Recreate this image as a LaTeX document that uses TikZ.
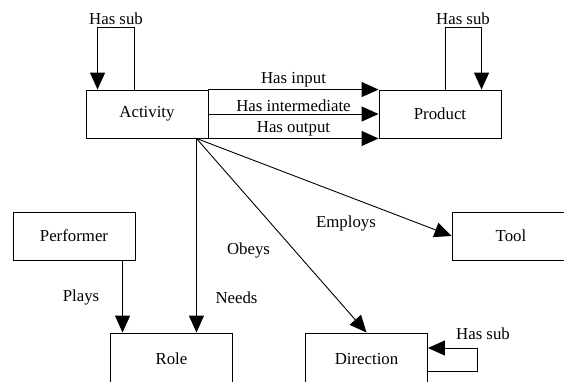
\documentclass[tikz,border=0pt]{standalone}
\usepackage{fontspec}
\setmainfont{Liberation Serif}
\usetikzlibrary{arrows.meta,calc}

\begin{document}
\begin{tikzpicture}
  [x=1pt, y=-1pt, line width=0.9pt,
   every node/.style={font=\fontsize{16.8}{20}\selectfont},
   box/.style={draw, rectangle, inner sep=0pt, minimum width=122pt, minimum height=48pt},
   lbl/.style={inner sep=2pt},
   link/.style={-{Triangle[length=17pt, width=15pt]}}]
  \useasboundingbox (0,0) rectangle (564,381);
  \node[box] (act) at (147,114) {Activity};
  \node[box] (prod) at (440,114) {Product};
  \node[box] (perf) at (74,236) {Performer};
  \node[box, minimum width=118pt] (tool) at (511,236) {Tool};
  \node[box, minimum height=52pt] (role) at (171.5,359) {Role};
  \node[box, minimum height=52pt] (dir) at (366.5,359) {Direction};

  % self loops
  \draw[link] ($(act.north west)+(49,0)$) -- ++(0,-62) -| ($(act.north west)+(12,0)$);
  \node[lbl] (actsub) at (116,19) {Has sub};
  \draw[link] ($(prod.north west)+(67,0)$) -- ++(0,-62) -| ($(prod.north west)+(103,0)$);
  \node[lbl] (prodsub) at (463,19) {Has sub};
  \draw[link] ($(dir.east)+(0,12)$) -- ++(49,0) |- ($(dir.east)+(0,-11)$);
  \node[lbl] (dirsub) at (483,334) {Has sub};

  % activity to product
  \draw[link] (act.north east) -- node[lbl, above] (inp) {Has input} (prod.north west);
  \draw[link] (act.east) -- node[lbl, above] (mid) {Has intermediate} (prod.west);
  \draw[link] (act.south east) -- node[lbl, above] (outp) {Has output} (prod.south west);

  % fan out of activity
  \coordinate (fan) at ($(act.south east)+(-12,0)$);
  \draw[link] (fan) -- (role.north -| fan);
  \node[lbl] (needs) at (236.5,298) {Needs};
  \draw[link] (fan) -- (dir.north);
  \node[lbl] (obeys) at (248.5,250) {Obeys};
  \draw[link] (fan) -- (tool.west);
  \node[lbl] (employs) at (346,223) {Employs};

  % performer plays role
  \coordinate (pl) at ($(perf.south west)+(110,0)$);
  \draw[link] (pl) -- (role.north -| pl);
  \node[lbl] (plays) at (81,297) {Plays};
\end{tikzpicture}
\end{document}
